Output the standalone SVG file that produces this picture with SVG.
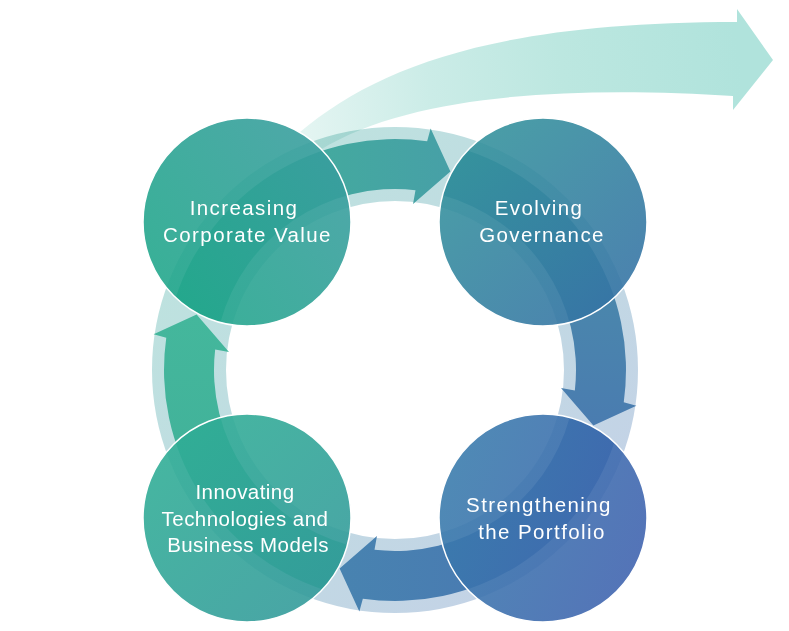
<svg xmlns="http://www.w3.org/2000/svg" width="789" height="631" viewBox="0 0 789 631">
  <style>
    .lbl { font-family: "Liberation Sans", Arial, Helvetica, sans-serif; font-size: 20.5px; fill: #ffffff; text-anchor: middle; letter-spacing: 1.4px; }
    .tight { letter-spacing: 0.45px; }
    .node { stroke: #ffffff; stroke-width: 1.5; fill-opacity: 0.89; }
    .big { mix-blend-mode: multiply; }
  </style>
  <defs>
    <linearGradient id="ringG" gradientUnits="userSpaceOnUse" x1="150" y1="130" x2="640" y2="615">
      <stop offset="0" stop-color="#bce6dd"/>
      <stop offset="1" stop-color="#c5cfe8"/>
    </linearGradient>
    <linearGradient id="a1G" x1="0" y1="0" x2="1" y2="0">
      <stop offset="0" stop-color="#3fb49a"/>
      <stop offset="0.6" stop-color="#44a8a0"/>
      <stop offset="1" stop-color="#47a0a7"/>
    </linearGradient>
    <linearGradient id="a2G" x1="0" y1="0" x2="0" y2="1">
      <stop offset="0" stop-color="#4799a8"/>
      <stop offset="0.5" stop-color="#4a87ac"/>
      <stop offset="1" stop-color="#4a7cb0"/>
    </linearGradient>
    <linearGradient id="a3G" x1="0" y1="0" x2="1" y2="0">
      <stop offset="0" stop-color="#4883b0"/>
      <stop offset="1" stop-color="#4a74b3"/>
    </linearGradient>
    <linearGradient id="a4G" x1="0" y1="0" x2="0" y2="1">
      <stop offset="0" stop-color="#44b79c"/>
      <stop offset="1" stop-color="#3fae98"/>
    </linearGradient>
    <linearGradient id="bigG" gradientUnits="userSpaceOnUse" x1="300" y1="120" x2="740" y2="60">
      <stop offset="0" stop-color="#e4f5f2"/>
      <stop offset="0.3" stop-color="#cbece7"/>
      <stop offset="0.6" stop-color="#bce7e0"/>
      <stop offset="1" stop-color="#b0e3dc"/>
    </linearGradient>
    <linearGradient id="tlG" x1="0" y1="1" x2="1" y2="0.3">
      <stop offset="0" stop-color="#1ca887"/>
      <stop offset="1" stop-color="#389d9e"/>
    </linearGradient>
    <linearGradient id="trG" x1="0" y1="0" x2="1" y2="1">
      <stop offset="0" stop-color="#33979a"/>
      <stop offset="1" stop-color="#356ea6"/>
    </linearGradient>
    <linearGradient id="brG" x1="0" y1="0.3" x2="1" y2="0.7">
      <stop offset="0" stop-color="#397cac"/>
      <stop offset="1" stop-color="#3f62af"/>
    </linearGradient>
    <linearGradient id="blG" x1="0" y1="0" x2="1" y2="1">
      <stop offset="0" stop-color="#2eb094"/>
      <stop offset="1" stop-color="#33979b"/>
    </linearGradient>
  </defs>

  <g id="connectors">
    <circle id="ring" cx="395" cy="370" r="206" fill="none" stroke="url(#ringG)" stroke-width="74"/>
    <path id="arrow-value-governance" fill="url(#a1G)" d="M175.62,297.66 A231,231 0 0 1 427.15,141.25 L430.64,128.62 L450.40,171.59 L413.04,203.98 L415.49,190.16 A181,181 0 0 0 220.34,322.52 A104,104 0 0 1 175.62,297.66 Z"/>
    <path id="arrow-governance-portfolio" fill="url(#a2G)" d="M467.34,150.62 A231,231 0 0 1 623.75,402.15 L636.38,405.64 L593.41,425.40 L561.02,388.04 L574.84,390.49 A181,181 0 0 0 442.48,195.34 A104,104 0 0 1 467.34,150.62 Z"/>
    <path id="arrow-portfolio-innovating" fill="url(#a3G)" d="M614.38,442.34 A231,231 0 0 1 362.85,598.75 L359.36,611.38 L339.60,568.41 L376.96,536.02 L374.51,549.84 A181,181 0 0 0 569.66,417.48 A104,104 0 0 1 614.38,442.34 Z"/>
    <path id="arrow-innovating-value" fill="url(#a4G)" d="M322.66,589.38 A231,231 0 0 1 166.25,337.85 L153.62,334.36 L196.59,314.60 L228.98,351.96 L215.16,349.51 A181,181 0 0 0 347.52,544.66 A104,104 0 0 1 322.66,589.38 Z"/>
    <path id="arrow-outward" class="big" fill="url(#bigG)" d="M300,132 C380,65 500,22 737,22 L737,9 L773,60 L733,110 L733,96 C600,88 420,88 320,150 Z"/>
  </g>

  <g id="node-increasing-value">
    <circle class="node" cx="247" cy="222" r="104" fill="url(#tlG)"/>
    <text class="lbl" x="244" y="215">Increasing</text>
    <text class="lbl" x="247.5" y="242">Corporate Value</text>
  </g>
  <g id="node-evolving-governance">
    <circle class="node" cx="543" cy="222" r="104" fill="url(#trG)"/>
    <text class="lbl" x="539" y="215">Evolving</text>
    <text class="lbl" x="542" y="242">Governance</text>
  </g>
  <g id="node-strengthening-portfolio">
    <circle class="node" cx="543" cy="518" r="104" fill="url(#brG)"/>
    <text class="lbl" x="539" y="512">Strengthening</text>
    <text class="lbl" x="542" y="539">the Portfolio</text>
  </g>
  <g id="node-innovating">
    <circle class="node" cx="247" cy="518" r="104" fill="url(#blG)"/>
    <text class="lbl tight" x="245" y="499">Innovating</text>
    <text class="lbl tight" x="245" y="526">Technologies and</text>
    <text class="lbl tight" x="248" y="552">Business Models</text>
  </g>
</svg>
